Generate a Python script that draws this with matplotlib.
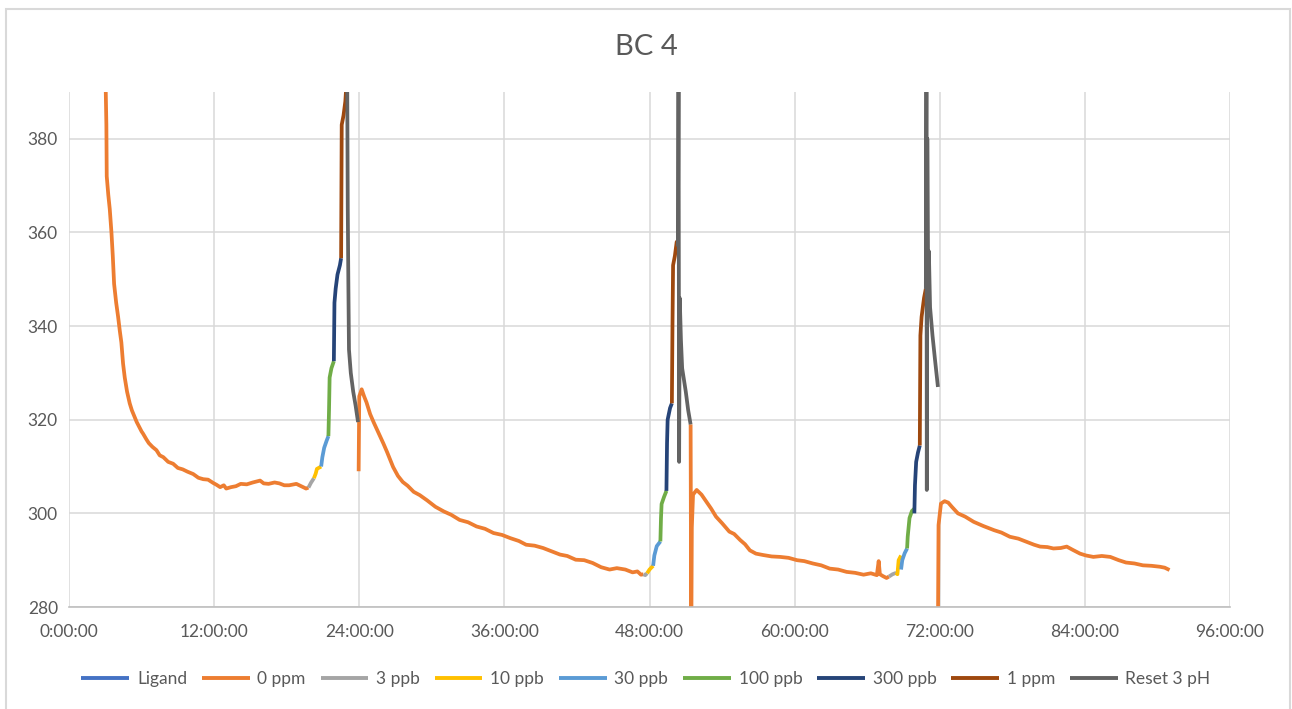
import numpy as np
import matplotlib
matplotlib.use("Agg")
import matplotlib.pyplot as plt
from matplotlib.patches import Rectangle
from matplotlib.ticker import FuncFormatter

nan = np.nan

title = "BC 4"
series_names = ["Ligand", "0 ppm", "3 ppb", "10 ppb", "30 ppb", "100 ppb", "300 ppb", "1 ppm", "Reset 3 pH"]
series_colors = ["#4472C4", "#ED7D31", "#A5A5A5", "#FFC000", "#5B9BD5", "#70AD47", "#264478", "#9E480E", "#636363"]
x_ticks_h = [0, 12, 24, 36, 48, 60, 72, 84, 96]
y_ticks = [280, 300, 320, 340, 360, 380]

# time in hours, value; NaN separates segments
ligand_t = []
ligand_v = []

ppm0_t = [2.95, 3.04, 3.09, 3.12, 3.25, 3.37, 3.51, 3.62, 3.73, 3.9, 4.06, 4.2, 4.33, 4.47, 4.61, 4.8, 5.02, 5.2, 5.44,
          5.6, 5.8, 6.0, 6.13, 6.4, 6.6, 6.9, 7.23, 7.5, 7.8, 8.2, 8.61, 9.0, 9.4, 9.8, 10.27, 10.7, 11.1, 11.5, 11.92,
          12.2, 12.5, 12.8, 13.0, 13.4, 13.8, 14.2, 14.7, 15.2, 15.8, 16.1, 16.5, 17.0, 17.4, 17.8, 18.2, 18.8, 19.2, 19.6, 19.8,
          nan,
          23.95, 24.0, 24.2, 24.4, 24.6, 24.9, 25.2, 25.5, 25.7, 26.0, 26.3, 26.6, 26.8, 27.2, 27.6, 28.0, 28.5, 29.0, 29.6,
          30.3, 31.0, 31.6, 32.3, 33.0, 33.7, 34.4, 35.1, 35.8, 36.5, 37.2, 37.8, 38.5, 39.2, 39.9, 40.6, 41.2, 41.9, 42.6,
          43.3, 44.0, 44.7, 45.3, 46.0, 46.6, 47.0, 47.3, 47.5,
          nan,
          51.4, 51.45, 51.5, 51.6, 51.9, 52.3, 52.7, 53.1, 53.5, 54.0, 54.6, 55.0, 55.5, 55.9, 56.3, 56.8, 57.4, 58.1, 58.8,
          59.5, 60.2, 60.8, 61.5, 62.2, 62.9, 63.6, 64.3, 65.0, 65.7, 66.3, 66.8, 66.95, 67.05, 67.3, 67.6, 67.8,
          nan,
          71.85, 71.9, 72.1, 72.4, 72.7, 73.0, 73.5, 74.1, 74.8, 75.6, 76.5, 77.1, 77.8, 78.5, 79.2, 79.8, 80.3, 80.9, 81.4,
          82.0, 82.5, 83.0, 83.6, 84.1, 84.7, 85.4, 86.1, 86.8, 87.4, 88.1, 88.8, 89.5, 90.2, 90.6, 91.0]
ppm0_v = [400, 390, 383, 372, 368, 365, 360, 355, 349, 345, 342, 339, 336.5, 332, 329, 326, 323.5, 322, 320.5,
          319.5, 318.5, 317.5, 317, 315.8, 315, 314.2, 313.5, 312.4, 312, 311, 310.6, 309.7, 309.4, 308.9, 308.4, 307.6, 307.3, 307.2, 306.5,
          306.1, 305.6, 306.0, 305.3, 305.6, 305.8, 306.3, 306.2, 306.6, 307.0, 306.4, 306.3, 306.6, 306.4, 306.0, 306.0, 306.3, 305.8, 305.3, 305.5,
          nan,
          309, 325, 326.5, 325, 323.7, 321.2, 319.4, 317.7, 316.6, 314.9, 313.1, 311.2, 309.9, 308.0, 306.7, 305.9, 304.6, 303.9, 302.8,
          301.4, 300.4, 299.7, 298.6, 298.1, 297.2, 296.7, 295.8, 295.4, 294.7, 294.1, 293.3, 293.1, 292.6, 291.9, 291.2, 290.9, 290.1, 290.0,
          289.4, 288.5, 288.0, 288.3, 288.0, 287.4, 287.6, 286.9, 287.0,
          nan,
          319, 270, 297, 304, 305, 304, 302.5, 301.0, 299.3, 297.9, 296.1, 295.6, 294.3, 293.4, 292.1, 291.4, 291.1, 290.8, 290.7,
          290.5, 290.0, 289.8, 289.3, 288.9, 288.2, 288.0, 287.5, 287.3, 286.9, 287.2, 286.8, 289.8, 287.0, 286.6, 286.2, 286.5,
          nan,
          275, 297.5, 302.1, 302.6, 302.3, 301.4, 300.0, 299.3, 298.2, 297.3, 296.4, 295.9, 295.0, 294.6, 293.9, 293.3, 292.9, 292.8, 292.5,
          292.6, 292.9, 292.2, 291.4, 291.0, 290.7, 290.9, 290.7, 290.0, 289.5, 289.3, 288.9, 288.8, 288.6, 288.4, 287.9]

ppb3_t = [19.8, 20.0, 20.25, nan, 47.5, 47.65, 47.8, nan, 67.8, 68.1, 68.4]
ppb3_v = [305.5, 306.5, 307.5, nan, 287.0, 286.8, 287.2, nan, 286.5, 287.0, 287.3]

ppb10_t = [20.25, 20.4, 20.5, 20.85, nan, 47.8, 48.0, 48.3, nan, 68.4, 68.5, 68.6, 68.8]
ppb10_v = [307.5, 308.5, 309.5, 310.0, nan, 287.2, 288.0, 288.8, nan, 287.3, 287.0, 290.0, 291.0]

ppb30_t = [20.85, 20.95, 21.1, 21.3, 21.45, nan, 48.3, 48.4, 48.6, 48.9, nan, 68.8, 68.9, 69.1, 69.3]
ppb30_v = [310.0, 312.0, 314.0, 315.5, 316.5, nan, 288.8, 291.0, 293.0, 294.0, nan, 288.0, 290.0, 291.5, 292.5]

ppb100_t = [21.45, 21.5, 21.55, 21.7, 21.9, nan, 48.9, 48.95, 49.0, 49.2, 49.4, nan, 69.3, 69.35, 69.5, 69.7, 69.9]
ppb100_v = [316.5, 322.0, 329.0, 331.0, 332.5, nan, 294.0, 299.0, 302.0, 303.5, 304.8, nan, 292.5, 295.0, 299.0, 300.5, 301.0]

ppb300_t = [21.9, 21.95, 22.05, 22.2, 22.4, 22.5, nan, 49.4, 49.45, 49.5, 49.7, 49.85, nan, 69.9, 69.95, 70.05, 70.2, 70.35]
ppb300_v = [332.5, 345.0, 348.0, 351.0, 353.0, 354.5, nan, 304.8, 315.0, 320.0, 322.5, 323.5, nan, 300.0, 306.0, 311.0, 313.0, 314.5]

ppm1_t = [22.5, 22.55, 22.7, 22.85, 22.95, nan, 49.85, 49.9, 49.95, 50.1, 50.25, 50.35, nan, 70.35, 70.4, 70.5, 70.7, 70.85]
ppm1_v = [354.5, 383.0, 385.0, 388.0, 392.0, nan, 323.5, 340.0, 353.0, 355.0, 358.0, 357.0, nan, 314.5, 338.0, 342.0, 346.0, 348.0]

reset_t = [22.95, 23.0, 23.05, 23.1, 23.15, 23.3, 23.5, 23.7, 23.9, nan,
           50.35, 50.4, 50.45, 50.5, 50.6, 50.7, 51.0, 51.2, 51.4, nan,
           70.85, 70.9, 70.93, 70.97, 71.05, 71.1, 71.2, 71.4, 71.6, 71.85]
reset_v = [392.0, 395.0, 365.0, 349.0, 335.0, 330.0, 326.0, 323.0, 319.5, nan,
           357.0, 395.0, 311.0, 346.0, 337.0, 331.0, 326.0, 322.0, 319.0, nan,
           348.0, 395.0, 305.0, 380.0, 346.0, 356.0, 344.0, 338.0, 333.0, 327.0]

series_t = [ligand_t, ppm0_t, ppb3_t, ppb10_t, ppb30_t, ppb100_t, ppb300_t, ppm1_t, reset_t]
series_v = [ligand_v, ppm0_v, ppb3_v, ppb10_v, ppb30_v, ppb100_v, ppb300_v, ppm1_v, reset_v]

plt.rcParams['font.family'] = ['Lato', 'DejaVu Sans']
W, H = 1292, 709
fig = plt.figure(figsize=(W / 100, H / 100), dpi=100)
ax = fig.add_axes([69 / W, 1 - 607 / H, (1230 - 69) / W, (607 - 92) / H])

for name, col, t, v in zip(series_names, series_colors, series_t, series_v):
    ax.plot(t, v, color=col, lw=2.7, label=name, solid_joinstyle='round', solid_capstyle='butt')

ax.set_xlim(0, 96)
ax.set_ylim(280, 390)
ax.set_xticks(x_ticks_h)
ax.set_yticks(y_ticks)
ax.xaxis.set_major_formatter(FuncFormatter(lambda x, p: f"{int(round(x))}:00:00"))
ax.grid(True, color="#D9D9D9", lw=1.1)
ax.set_axisbelow(True)
for s in ["top", "right", "left"]:
    ax.spines[s].set_visible(False)
ax.spines["bottom"].set_color("#BFBFBF")
ax.spines["bottom"].set_linewidth(1.2)
ax.tick_params(length=0, colors="#595959", labelsize=12.5, pad=8)
ax.tick_params(axis="x", pad=12)

fig.text(0.5, 1 - 47 / H, title, ha="center", va="center", fontsize=21, color="#595959")

leg = fig.legend(loc="center", bbox_to_anchor=(0.5, 1 - 679 / H), ncol=9, frameon=False,
                 fontsize=12.5, handlelength=2.75, columnspacing=0.85, handletextpad=0.45)
for txt in leg.get_texts():
    txt.set_color("#595959")
for line in leg.get_lines():
    line.set_linewidth(2.8)

fig.patches.append(Rectangle((6 / W, -0.01), (1290 - 6) / W, 1 - 9 / H + 0.01, transform=fig.transFigure,
                             fill=False, edgecolor="#D9D9D9", lw=1.5))

fig.savefig("out.png", dpi=100, facecolor="white")
